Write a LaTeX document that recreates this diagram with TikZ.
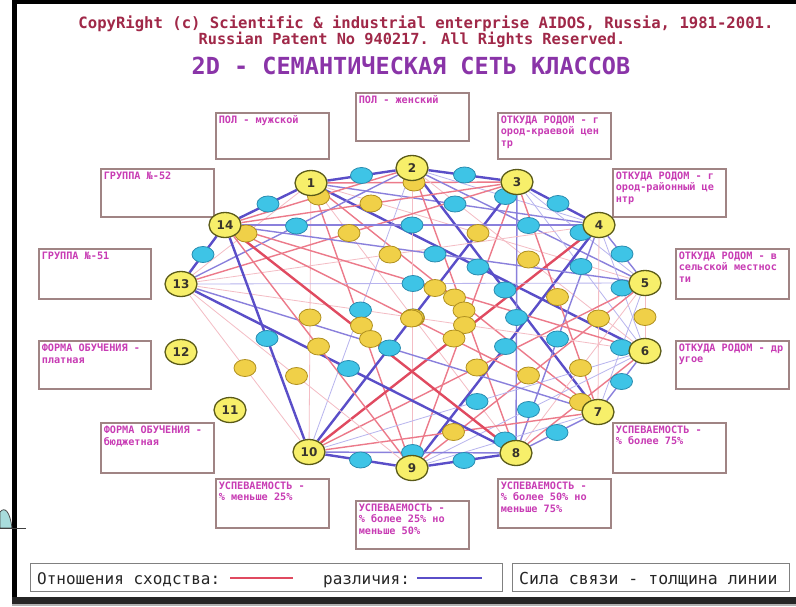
\documentclass[tikz,border=0pt]{standalone}
\usepackage{fontspec}
\newfontfamily\dmono{DejaVu Sans Mono}
\newfontfamily\dsans{DejaVu Sans}
\usetikzlibrary{shapes.geometric,calc}
\pgfdeclarelayer{paper}
\pgfdeclarelayer{bg}
\pgfdeclarelayer{mid}
\pgfsetlayers{paper,bg,mid,main}
\definecolor{bigfill}{HTML}{F7EF6A}
\definecolor{bigdraw}{HTML}{5A5A18}
\definecolor{bfill}{HTML}{3EC4E6}
\definecolor{bdraw}{HTML}{2A8CB0}
\definecolor{yfill}{HTML}{F0D048}
\definecolor{ydraw}{HTML}{B09020}
\definecolor{boxtxt}{HTML}{C83CB4}
\definecolor{boxline}{HTML}{A08484}
\definecolor{copyc}{HTML}{A02848}
\definecolor{titlec}{HTML}{8A34A8}
\definecolor{linkB1}{HTML}{B8B4EE}
\definecolor{linkB2}{HTML}{8A80DC}
\definecolor{linkB3}{HTML}{5A4EC8}
\definecolor{linkY1}{HTML}{F4BCC4}
\definecolor{linkY2}{HTML}{EC7A8A}
\definecolor{linkY3}{HTML}{E04A60}
\definecolor{tealpart}{HTML}{A8DCDC}
\def\edgelist{1/2/B/3,1/3/Y/2,1/4/B/2,1/5/Y/1,1/6/B/3,1/7/Y/2,1/8/Y/1,1/9/Y/2,1/10/Y/1,1/13/Y/1,1/14/B/3,
2/3/B/3,2/4/B/1,2/5/B/2,2/6/Y/1,2/7/B/3,2/8/Y/2,2/9/Y/1,2/10/B/1,2/13/B/2,2/14/Y/2,
3/4/B/3,3/5/B/1,3/6/B/1,3/7/Y/2,3/8/B/2,3/9/Y/2,3/10/B/3,3/13/Y/2,3/14/Y/2,
4/5/B/2,4/6/B/1,4/7/Y/1,4/8/B/2,4/9/B/3,4/10/Y/3,4/13/Y/1,4/14/B/2,
5/6/Y/1,5/7/B/1,5/8/Y/1,5/9/Y/2,5/10/Y/2,5/13/B/1,5/14/B/2,
6/7/B/2,6/8/Y/2,6/9/B/1,6/10/B/1,6/13/Y/1,6/14/Y/2,
7/8/B/2,7/9/B/1,7/10/Y/2,7/13/B/2,7/14/Y/2,
8/9/B/3,8/10/B/2,8/13/B/3,8/14/Y/3,
9/10/B/3,9/13/Y/1,9/14/Y/2,
10/13/Y/1,10/14/B/3,
13/14/B/3}
\begin{document}
\begin{tikzpicture}[x=1pt,y=-1pt,
  bignode/.style={ellipse,fill=bigfill,draw=bigdraw,line width=1.3pt,minimum width=32pt,minimum height=25pt,inner sep=0pt,font=\dsans\bfseries\fontsize{12}{12}\selectfont,text=black!80!olive},
  sB/.style={ellipse,fill=bfill,draw=bdraw,line width=0.8pt,minimum width=22pt,minimum height=16pt,inner sep=0pt},
  sY/.style={ellipse,fill=yfill,draw=ydraw,line width=0.8pt,minimum width=22pt,minimum height=17pt,inner sep=0pt},
  eB1/.style={draw=linkB1,line width=0.8pt},
  eB2/.style={draw=linkB2,line width=1.4pt},
  eB3/.style={draw=linkB3,line width=2.4pt},
  eY1/.style={draw=linkY1,line width=0.8pt},
  eY2/.style={draw=linkY2,line width=1.4pt},
  eY3/.style={draw=linkY3,line width=2.4pt},
  cbox/.style={draw=boxline,line width=1.5pt,fill=white,inner sep=3pt,anchor=north west,text=boxtxt,font=\dmono\bfseries\fontsize{10.2}{11.5}\selectfont},
  legbox/.style={draw=gray,line width=1.2pt,anchor=north west,inner sep=0pt},
  legtxt/.style={anchor=base west,inner sep=0pt,font=\dmono\fontsize{16}{16}\selectfont,text=black!85},
]
\useasboundingbox (0,0) rectangle (796,606);
\begin{pgfonlayer}{paper}
\fill[white] (0,0) rectangle (796,606);
\end{pgfonlayer}
% frame
\fill[black] (13,0) rectangle (796,4);
\fill[black] (12,0) rectangle (17,606);
\fill[black!85] (12,597) rectangle (796,604);
\fill[black!30] (12,604) rectangle (796,606);
% teal fragment
\filldraw[fill=tealpart,draw=black!70,line width=0.8pt] (0,528) -- (0,512) .. controls (5,506) and (10,512) .. (12,528) -- cycle;
\coordinate (tl1) at (0,528);
\coordinate (tl2) at (26,528);
\draw[black!75,line width=1pt] (tl1) -- (tl2);
% titles
\node[text=copyc,font=\dmono\bfseries\fontsize{15.6}{16}\selectfont,inner sep=0pt] (cp1) at (426,24) {CopyRight (c) Scientific \& industrial enterprise AIDOS, Russia, 1981-2001.};
\node[text=copyc,font=\dmono\bfseries\fontsize{15.3}{16}\selectfont,inner sep=0pt] (cp2) at (412,40) {Russian Patent No 940217. All Rights Reserved.};
\node[text=titlec,font=\dmono\bfseries\fontsize{23.5}{24}\selectfont,inner sep=0pt] (ttl) at (411,66) {2D - СЕМАНТИЧЕСКАЯ СЕТЬ КЛАССОВ};
% text boxes
\node[cbox] (b1) at (215,112) {\parbox[t][40pt][t]{107pt}{ПОЛ - мужской}};
\node[cbox] (b2) at (355,92) {\parbox[t][42pt][t]{107pt}{ПОЛ - женский}};
\node[cbox] (b3) at (497,112) {\parbox[t][40pt][t]{107pt}{ОТКУДА РОДОМ - г\\ород-краевой цен\\тр}};
\node[cbox] (b4) at (612,168) {\parbox[t][42pt][t]{107pt}{ОТКУДА РОДОМ - г\\ород-районный це\\нтр}};
\node[cbox] (b5) at (675,248) {\parbox[t][44pt][t]{107pt}{ОТКУДА РОДОМ - в\\сельской местнос\\ти}};
\node[cbox] (b6) at (675,340) {\parbox[t][42pt][t]{107pt}{ОТКУДА РОДОМ - др\\угое}};
\node[cbox] (b7) at (612,422) {\parbox[t][44pt][t]{107pt}{УСПЕВАЕМОСТЬ -\\\% более 75\%}};
\node[cbox] (b8) at (497,478) {\parbox[t][43pt][t]{107pt}{УСПЕВАЕМОСТЬ -\\\% более 50\% но\\меньше 75\%}};
\node[cbox] (b9) at (355,500) {\parbox[t][42pt][t]{107pt}{УСПЕВАЕМОСТЬ -\\\% более 25\% но\\меньше 50\%}};
\node[cbox] (b10) at (215,478) {\parbox[t][43pt][t]{107pt}{УСПЕВАЕМОСТЬ -\\\% меньше 25\%}};
\node[cbox] (b11) at (100,422) {\parbox[t][44pt][t]{107pt}{ФОРМА ОБУЧЕНИЯ -\\бюджетная}};
\node[cbox] (b12) at (38,340) {\parbox[t][42pt][t]{106pt}{ФОРМА ОБУЧЕНИЯ -\\платная}};
\node[cbox] (b13) at (38,248) {\parbox[t][44pt][t]{106pt}{ГРУППА №-51}};
\node[cbox] (b14) at (100,168) {\parbox[t][42pt][t]{107pt}{ГРУППА №-52}};
% main class nodes
\foreach \n/\x/\y in {1/311/183,2/412/168,3/517/182,4/599/225,5/645/283,6/645/351,7/598/412,8/516/453,9/412/468,10/309/452,11/230/410,12/181/352,13/181/284,14/225/225}
  \node[bignode] (n\n) at (\x,\y) {\n};
% links
\begin{pgfonlayer}{bg}
\foreach \a/\b/\t/\w in \edgelist
  \draw[e\t\w] (n\a) -- (n\b);
\end{pgfonlayer}
% link weight markers
\begin{pgfonlayer}{mid}
\foreach \a/\b/\t/\w in \edgelist {
  \if\t B\node[sB] (m\a-\b) at ($(n\a)!0.5!(n\b)$) {};\fi
}
\foreach \a/\b/\t/\w in \edgelist {
  \if\t Y\node[sY] (m\a-\b) at ($(n\a)!0.5!(n\b)$) {};\fi
}
\end{pgfonlayer}
% legend
\node[legbox,minimum width=472pt,minimum height=28pt] (leg1) at (30,563) {};
\node[legbox,minimum width=277pt,minimum height=28pt] (leg2) at (512,563) {};
\node[legtxt] (lt1) at (37,584) {Отношения сходства:};
\coordinate (lr1) at (230,578);
\coordinate (lr2) at (293,578);
\draw[linkY3,line width=2.2pt] (lr1) -- (lr2);
\node[legtxt] (lt2) at (323,584) {различия:};
\coordinate (lb1) at (417,578);
\coordinate (lb2) at (482,578);
\draw[linkB3,line width=2.2pt] (lb1) -- (lb2);
\node[legtxt,font=\dmono\fontsize{16.5}{16}\selectfont] (lt3) at (519,584) {Сила связи - толщина линии};
\end{tikzpicture}
\end{document}
